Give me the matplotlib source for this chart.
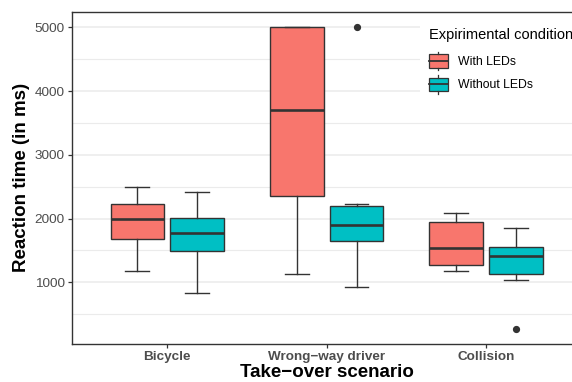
import matplotlib
matplotlib.use("Agg")
import matplotlib.pyplot as plt
from matplotlib.patches import Rectangle
from matplotlib.lines import Line2D
from matplotlib.legend_handler import HandlerBase

plt.rcParams['font.family'] = ['Liberation Sans', 'DejaVu Sans']

# five-number summaries per scenario (ms)
scenarios = ["Bicycle", "Wrong\u2212way driver", "Collision"]
conditions = ["With LEDs", "Without LEDs"]
colors = ["#F8766D", "#00BFC4"]

with_leds_lo = [1180, 1125, 1177]
with_leds_q1 = [1680, 2360, 1267]
with_leds_med = [1995, 3700, 1538]
with_leds_q3 = [2233, 5000, 1951]
with_leds_hi = [2490, 5000, 2092]
with_leds_out = [[], [], []]

without_leds_lo = [837, 931, 1036]
without_leds_q1 = [1486, 1653, 1125]
without_leds_med = [1769, 1904, 1412]
without_leds_q3 = [2004, 2202, 1554]
without_leds_hi = [2416, 2228, 1857]
without_leds_out = [[], [5000], [263]]

EDGE = "#333333"


def make_stats(lo, q1, med, q3, hi, out):
    return [dict(whislo=a, q1=b, med=c, q3=d, whishi=e, fliers=f)
            for a, b, c, d, e, f in zip(lo, q1, med, q3, hi, out)]


class BoxKeyHandler(HandlerBase):
    # small boxplot glyph used as legend key
    def create_artists(self, legend, orig_handle, xdescent, ydescent,
                       width, height, fontsize, trans):
        fc = orig_handle.get_facecolor()
        x0, y0 = -xdescent, -ydescent
        bh = height * 0.72
        by = y0 + (height - bh) / 2
        rect = Rectangle((x0, by), width, bh, facecolor=fc,
                         edgecolor=EDGE, lw=0.9, transform=trans)
        cx = x0 + width / 2
        med = Line2D([x0, x0 + width], [y0 + height / 2] * 2,
                     color=EDGE, lw=1.3, transform=trans)
        w1 = Line2D([cx, cx], [y0, by], color=EDGE, lw=0.9, transform=trans)
        w2 = Line2D([cx, cx], [by + bh, y0 + height], color=EDGE, lw=0.9,
                    transform=trans)
        return [rect, w1, w2, med]


fig = plt.figure(figsize=(5.72, 3.82), dpi=100)
ax = fig.add_axes([0.1253, 0.0995, 0.8915, 0.8699])

dodge = 0.1875
box_w = 0.3375
groups = [
    make_stats(with_leds_lo, with_leds_q1, with_leds_med, with_leds_q3,
               with_leds_hi, with_leds_out),
    make_stats(without_leds_lo, without_leds_q1, without_leds_med,
               without_leds_q3, without_leds_hi, without_leds_out),
]
for k, (stats, col) in enumerate(zip(groups, colors)):
    pos = [i + 1 + (k * 2 - 1) * dodge for i in range(len(scenarios))]
    ax.bxp(stats, positions=pos, widths=box_w, capwidths=0.15,
           patch_artist=True, manage_ticks=False,
           boxprops=dict(facecolor=col, edgecolor=EDGE, lw=1.0),
           medianprops=dict(color=EDGE, lw=1.9),
           whiskerprops=dict(color=EDGE, lw=1.0),
           capprops=dict(color=EDGE, lw=1.0),
           flierprops=dict(marker="o", markerfacecolor=EDGE,
                           markeredgecolor=EDGE, markersize=4.2),
           zorder=3)

ax.set_xlim(0.4, 3.6)
ax.set_ylim(32, 5245)
ax.set_xticks([1, 2, 3])
ax.set_xticklabels(scenarios, fontweight="bold")
ax.set_yticks([1000, 2000, 3000, 4000, 5000])
ax.set_yticks([500, 1500, 2500, 3500, 4500], minor=True)
ax.grid(True, axis="y", which="major", color="#EBEBEB", lw=1.1, zorder=0)
ax.grid(True, axis="y", which="minor", color="#EBEBEB", lw=0.8, zorder=0)
ax.set_axisbelow(True)
ax.tick_params(axis="both", which="major", length=3, width=0.9,
               color=EDGE, labelcolor="#4D4D4D", labelsize=9.7, pad=2)
ax.tick_params(axis="both", which="minor", length=0)
for side in ["left", "top", "bottom"]:
    ax.spines[side].set_color(EDGE)
    ax.spines[side].set_linewidth(1.0)
ax.spines["right"].set_visible(False)

ax.set_xlabel("Take\u2212over scenario", fontsize=13.5, fontweight="bold",
              labelpad=1)
ax.set_ylabel("Reaction time (in ms)", fontsize=13.5, fontweight="bold",
              labelpad=3)

handles = [Rectangle((0, 0), 1, 1, facecolor=c) for c in colors]
leg = ax.legend(handles, conditions, handler_map={Rectangle: BoxKeyHandler()},
                title="Expirimental condition", title_fontsize=10.5,
                fontsize=8.8, loc="upper left",
                bbox_to_anchor=(420 / 572, 1 - 19 / 382),
                bbox_transform=fig.transFigure, frameon=True, framealpha=1,
                edgecolor="none", fancybox=False, borderpad=0.72,
                handlelength=1.55, handleheight=2.0, handletextpad=0.8,
                labelspacing=0.38, borderaxespad=0)
leg._legend_box.align = "left"
leg._legend_box.sep = 7
leg.set_zorder(5)

fig.savefig("out.png", dpi=100)
